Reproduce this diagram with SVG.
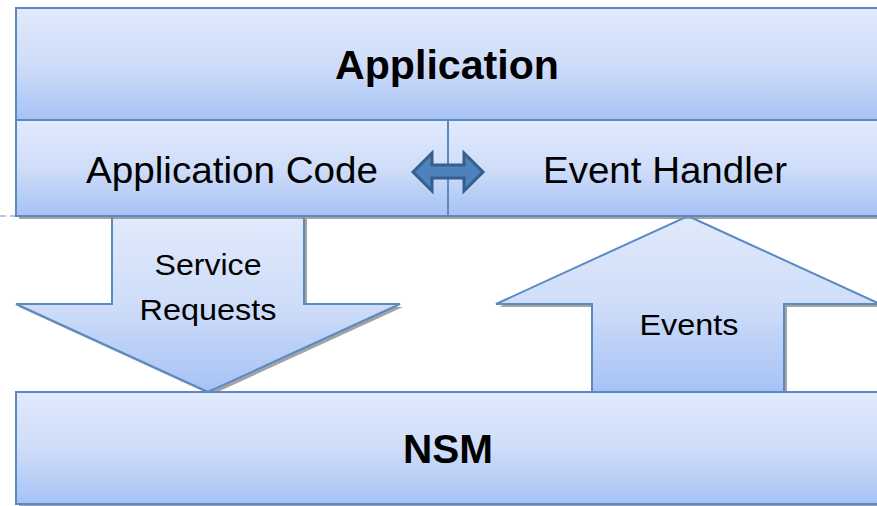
<svg xmlns="http://www.w3.org/2000/svg" width="877" height="506" viewBox="0 0 877 506">
<defs>
<linearGradient id="g" x1="0" y1="0" x2="0" y2="1">
<stop offset="0" stop-color="#e1eafc"/>
<stop offset="0.5" stop-color="#cfddf9"/>
<stop offset="1" stop-color="#a6c2f4"/>
</linearGradient>
<style>
.box{fill:url(#g);stroke:#5a89c6;stroke-width:2}
.sh{fill:#8c8c8c;opacity:0.8}
.t{font-family:"Liberation Sans",Arial,sans-serif;font-size:36px;fill:#000;text-anchor:middle}
.tb{font-family:"Liberation Sans",Arial,sans-serif;font-size:40px;font-weight:bold;fill:#000;text-anchor:middle}
.ts{font-family:"Liberation Sans",Arial,sans-serif;font-size:30px;fill:#000;text-anchor:middle}
</style>
</defs>
<rect width="877" height="506" fill="#fff"/>
<line x1="0" y1="216" x2="16" y2="216" stroke="#9fb3cc" stroke-width="1.5" stroke-dasharray="6,4"/>
<g id="connectors">
<g id="service-requests">
<polygon class="sh" points="115,219 307,219 307,307 403,307 211,395 19,307 115,307"/>
<polygon class="box" points="112,216 304,216 304,304 400,304 208,392 16,304 112,304"/>
<text class="ts" x="208" y="275" textLength="107" lengthAdjust="spacingAndGlyphs">Service</text>
<text class="ts" x="208" y="320" textLength="137" lengthAdjust="spacingAndGlyphs">Requests</text>
</g>
<g id="events">
<polygon class="sh" points="691,219 883,307 787,307 787,395 595,395 595,307 499,307"/>
<polygon class="box" points="688,216 880,304 784,304 784,392 592,392 592,304 496,304"/>
<text class="ts" x="689" y="335" textLength="99" lengthAdjust="spacingAndGlyphs">Events</text>
</g>
</g>
<g id="application">
<rect class="sh" x="19" y="11" width="870" height="208"/>
<rect class="box" x="16" y="8" width="870" height="112"/>
<text class="tb" x="447" y="79" textLength="224" lengthAdjust="spacingAndGlyphs">Application</text>
</g>
<g id="application-code">
<rect class="box" x="16" y="120" width="432" height="96"/>
<text class="t" x="232" y="183" textLength="292" lengthAdjust="spacingAndGlyphs">Application Code</text>
</g>
<g id="event-handler">
<rect class="box" x="448" y="120" width="438" height="96"/>
<text class="t" x="665" y="183" textLength="244" lengthAdjust="spacingAndGlyphs">Event Handler</text>
</g>
<g id="link">
<polygon points="413,172 432,153 432,165 464,165 464,153 483,172 464,191 464,178 432,178 432,191" fill="#4f81bd" stroke="#375d8d" stroke-width="3" stroke-linejoin="miter"/>
</g>
<g id="nsm">
<rect class="sh" x="19" y="395" width="870" height="112"/>
<rect class="box" x="16" y="392" width="870" height="112"/>
<text class="tb" x="448" y="463" textLength="90" lengthAdjust="spacingAndGlyphs">NSM</text>
</g>
</svg>
